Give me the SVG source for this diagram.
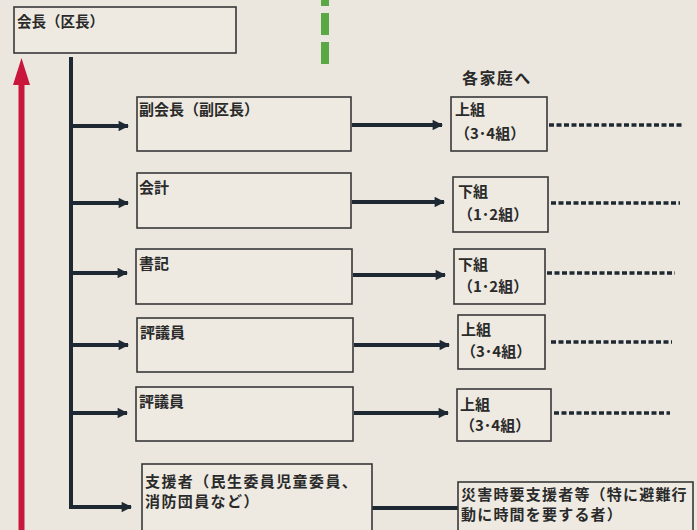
<svg xmlns="http://www.w3.org/2000/svg" width="697" height="530" viewBox="0 0 697 530">
<style>
.box{fill:#eeeae2;stroke:#383838;stroke-width:1.6}
.t{font-family:"Noto Sans CJK JP","Noto Sans",sans-serif;font-weight:bold;fill:#2a2a2a;font-size:15px}
.tw{letter-spacing:1.4px}
.ln{stroke:#1e2833;stroke-width:4;fill:none}
.dot{stroke:#1e2833;stroke-width:3.5;stroke-dasharray:5 2.5;fill:none}
</style>
<defs>
<marker id="ah" viewBox="0 0 10 10" refX="9" refY="5" markerWidth="2.8" markerHeight="2.6" orient="auto" markerUnits="strokeWidth">
<path d="M0,0 L10,5 L0,10 z" fill="#1e2833"/>
</marker>
</defs>
<rect width="697" height="530" fill="#ebe7de"/>

<g id="connectors">
<line x1="325" y1="-16" x2="325" y2="64" stroke="#5aa845" stroke-width="8" stroke-dasharray="22 7"/>
<line x1="21.5" y1="530" x2="21.5" y2="80" stroke="#c8173a" stroke-width="6"/>
<path d="M21.5,58 L30,85 L13,85 z" fill="#c8173a"/>
<path class="ln" d="M71,57 V507 H130"/>
<line class="ln" x1="71" y1="126" x2="128" y2="126" marker-end="url(#ah)"/>
<line class="ln" x1="71" y1="203" x2="128" y2="203" marker-end="url(#ah)"/>
<line class="ln" x1="71" y1="273" x2="127" y2="273" marker-end="url(#ah)"/>
<line class="ln" x1="71" y1="345" x2="128" y2="345" marker-end="url(#ah)"/>
<line class="ln" x1="71" y1="413" x2="127" y2="413" marker-end="url(#ah)"/>
<line class="ln" x1="71" y1="507" x2="131" y2="507" marker-end="url(#ah)"/>
<line class="ln" x1="352" y1="125" x2="442" y2="125" marker-end="url(#ah)"/>
<line class="ln" x1="352" y1="202" x2="444" y2="202" marker-end="url(#ah)"/>
<line class="ln" x1="353" y1="275" x2="445" y2="275" marker-end="url(#ah)"/>
<line class="ln" x1="354" y1="345" x2="449" y2="345" marker-end="url(#ah)"/>
<line class="ln" x1="354" y1="413" x2="448" y2="413" marker-end="url(#ah)"/>
<line class="ln" x1="372" y1="508" x2="458" y2="508"/>
<line class="dot" x1="549" y1="125" x2="683" y2="125"/>
<line class="dot" x1="551" y1="203" x2="680" y2="203"/>
<line class="dot" x1="547" y1="273" x2="675" y2="273"/>
<line class="dot" x1="551" y1="342" x2="672" y2="342"/>
<line class="dot" x1="554" y1="413" x2="670" y2="413"/>
</g>

<g id="kaicho"><rect class="box" x="14" y="7" width="222" height="46"/><text class="t" x="17" y="27" style="font-size:14.5px">会長（区長）</text></g>
<g id="fukukaicho"><rect class="box" x="137" y="97" width="214" height="54"/><text class="t" x="139" y="115">副会長（副区長）</text></g>
<g id="kaikei"><rect class="box" x="137" y="173" width="214" height="55"/><text class="t" x="139" y="193">会計</text></g>
<g id="shoki"><rect class="box" x="136" y="249" width="216" height="55"/><text class="t" x="139" y="269">書記</text></g>
<g id="hyogiin1"><rect class="box" x="137" y="318" width="216" height="54"/><text class="t" x="140" y="338">評議員</text></g>
<g id="hyogiin2"><rect class="box" x="136" y="387" width="217" height="54"/><text class="t" x="139" y="407">評議員</text></g>
<g id="shiensha"><rect class="box" x="142" y="464" width="230" height="80"/><text class="t tw" x="145" y="487">支援者（民生委員児童委員、</text><text class="t tw" x="145" y="507">消防団員など）</text></g>

<g id="kakukatei"><text class="t tw" x="462" y="84" style="font-size:16px">各家庭へ</text></g>
<g id="kamigumi1"><rect class="box" x="451" y="97" width="96" height="54"/><text class="t" x="455" y="115">上組</text><text class="t" x="455" y="139">（3･4組）</text></g>
<g id="shimogumi1"><rect class="box" x="453" y="177" width="95" height="55"/><text class="t" x="458" y="197">下組</text><text class="t" x="458" y="220">（1･2組）</text></g>
<g id="shimogumi2"><rect class="box" x="454" y="249" width="91" height="55"/><text class="t" x="458" y="270">下組</text><text class="t" x="458" y="292">（1･2組）</text></g>
<g id="kamigumi2"><rect class="box" x="458" y="315" width="87" height="54"/><text class="t" x="461" y="335">上組</text><text class="t" x="461" y="357">（3･4組）</text></g>
<g id="kamigumi3"><rect class="box" x="457" y="389" width="94" height="52"/><text class="t" x="460" y="410">上組</text><text class="t" x="460" y="431">（3･4組）</text></g>
<g id="saigaiji"><rect class="box" x="458" y="482" width="235" height="60"/><text class="t" x="461" y="500" style="letter-spacing:1.2px">災害時要支援者等（特に避難行</text><text class="t" x="461" y="520" style="letter-spacing:1.2px">動に時間を要する者）</text></g>
</svg>
